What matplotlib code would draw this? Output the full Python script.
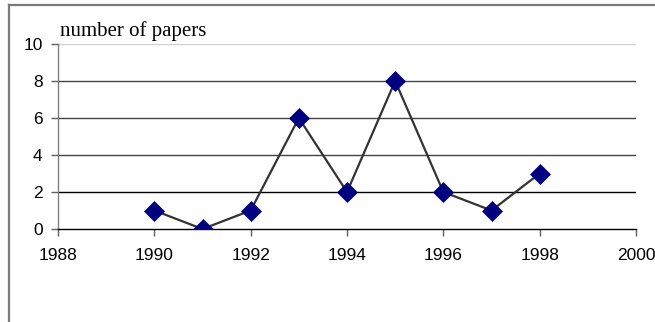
import matplotlib
matplotlib.use("Agg")
import matplotlib.pyplot as plt
from matplotlib.lines import Line2D

years = [1990, 1991, 1992, 1993, 1994, 1995, 1996, 1997, 1998]
papers = [1, 0, 1, 6, 2, 8, 2, 1, 3]
x_ticks = [1988, 1990, 1992, 1994, 1996, 1998, 2000]
y_ticks = [0, 2, 4, 6, 8, 10]
y_label = "number of papers"

W, H, DPI = 655, 322, 100
fig = plt.figure(figsize=(W / DPI, H / DPI), dpi=DPI)
fig.patch.set_facecolor("white")

# plot area in pixel units
left, right, top, bottom = 58, 636, 44, 229
ax = fig.add_axes([left / W, 1 - bottom / H, (right - left) / W, (bottom - top) / H])
ax.set_xlim(1988, 2000)
ax.set_ylim(0, 10)

# horizontal gridlines
for v in y_ticks[1:]:
    col = "#cfcfcf" if v == 10 else ("#000000" if v == 2 else "#444444")
    ax.axhline(v, color=col, lw=1.0, zorder=1)

ax.plot(years, papers, color="#333333", lw=1.6, zorder=3,
        marker="D", markersize=10.5, markerfacecolor="#000080",
        markeredgecolor="#000080", markeredgewidth=0.5)

for s in ["top", "right"]:
    ax.spines[s].set_visible(False)
ax.spines["left"].set_color("#808080")
ax.spines["left"].set_linewidth(1.0)
ax.spines["bottom"].set_color("#000000")
ax.spines["bottom"].set_linewidth(1.0)

ax.set_xticks(x_ticks)
ax.set_yticks(y_ticks)
ax.tick_params(axis="both", direction="out", length=5, width=1,
               color="#606060", labelsize=12.5)
ax.tick_params(axis="x", pad=9)
ax.tick_params(axis="y", pad=6)
for lab in ax.get_xticklabels() + ax.get_yticklabels():
    lab.set_fontfamily("Liberation Sans")

fig.text(60 / W, 1 - 36 / H, y_label, family="Liberation Serif",
         fontsize=15, va="baseline", ha="left")

# chart frame (left and top edges)
fig.add_artist(Line2D([9 / W, 9 / W], [0, 1 - 5 / H], transform=fig.transFigure,
                      color="#7a7a7a", lw=1.6))
fig.add_artist(Line2D([9 / W, 1], [1 - 5 / H, 1 - 5 / H], transform=fig.transFigure,
                      color="#7a7a7a", lw=1.6))

fig.savefig("out.png", dpi=DPI)
